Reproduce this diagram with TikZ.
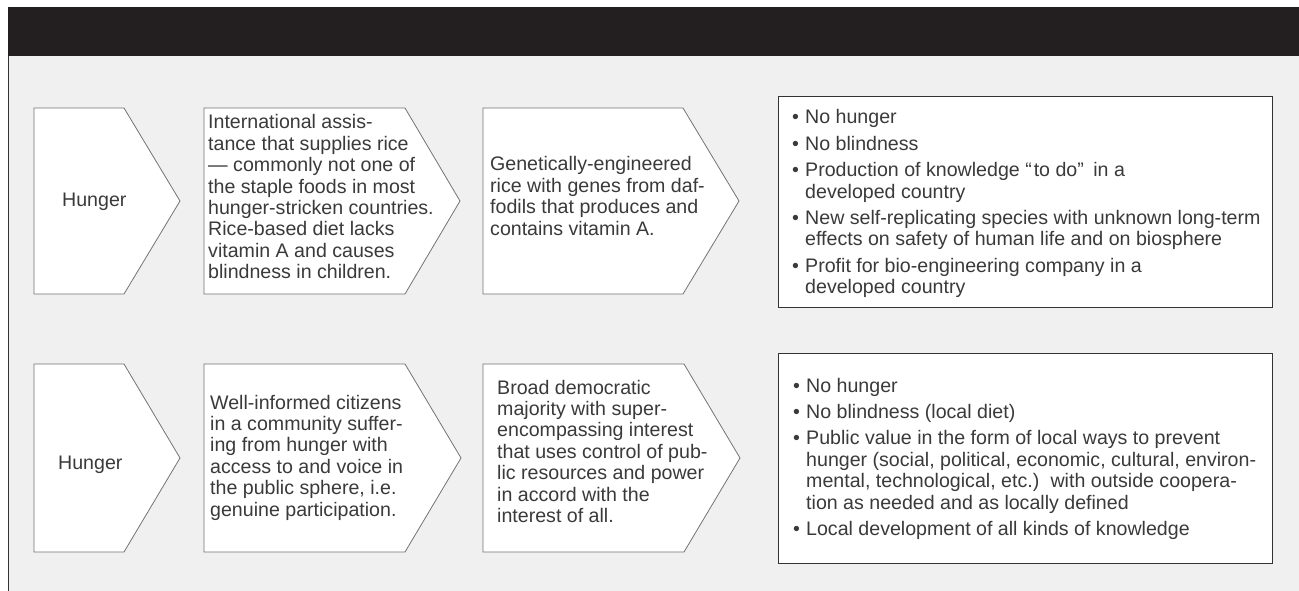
\documentclass[tikz,border=0pt]{standalone}
\usepackage{fontspec}
\setmainfont{Liberation Sans}
\definecolor{barblack}{HTML}{231F20}
\definecolor{panel}{HTML}{F0F0F0}
\definecolor{ink}{HTML}{3A3A3A}
% chevron box: left x, notch x, tip x, top y, bottom y
\newcommand\chevronbox[5]{%
  \draw[pentbox] (#1,#4) -- (#2,#4) -- (#3,{(#4+#5)/2}) -- (#2,#5) -- (#1,#5) -- cycle;}
\begin{document}
\begin{tikzpicture}[x=1pt,y=-1pt,
  pentbox/.style={draw=black!55, line width=0.8pt, fill=white, line join=miter},
  outbox/.style={draw=black!80, line width=1pt, fill=white},
  txt/.style={inner sep=0pt, anchor=base west, text=ink,
    font=\fontsize{19.6pt}{21.4pt}\selectfont},
]
\useasboundingbox (0,0) rectangle (1299,591);
\fill[white] (0,0) rectangle (1299,591);
% panel and heading bar
\fill[panel] (8,56) rectangle (1299,591);
\fill[barblack] (8,7) rectangle (1299,56);
\draw[black!80, line width=1pt] (8.5,56) -- (8.5,591);

% first row
\chevronbox{34}{124}{180}{108}{294}
\chevronbox{204}{405}{460}{108}{294}
\chevronbox{483}{683}{739}{108}{294}
\draw[outbox] (778,97) rectangle (1272,307);

\node[txt] (hungerA) at (62,207) {Hunger};
\node[txt] (meansA) at (208,129) {\begin{tabular}[t]{@{}l@{}}
International assis-\\
tance that supplies rice\\
— commonly not one of\\
the staple foods in most\\
hunger-stricken countries.\\
Rice-based diet lacks\\
vitamin A and causes\\
blindness in children.\end{tabular}};
\node[txt] (techA) at (490,171) {\begin{tabular}[t]{@{}l@{}}
Genetically-engineered\\
rice with genes from daf-\\
fodils that produces and\\
contains vitamin A.\end{tabular}};
\node[txt] (resultA) at (792,124) {\begin{tabular}[t]{@{}p{13pt}@{}l@{}}
• & No hunger\\[5pt]
• & No blindness\\[5pt]
• & Production of knowledge “\kern2pt to do”\kern4pt{} in a\\
  & developed country\\[5pt]
• & New self-replicating species with unknown long-term\\
  & effects on safety of human life and on biosphere\\[5pt]
• & Profit for bio-engineering company in a\\
  & developed country\end{tabular}};

% second row
\chevronbox{34}{124}{180}{364}{552}
\chevronbox{204}{405}{461}{364}{552}
\chevronbox{483}{684}{740}{364}{552}
\draw[outbox] (778,353) rectangle (1272,563);

\node[txt] (hungerB) at (58,469) {Hunger};
\node[txt] (meansB) at (210,409) {\begin{tabular}[t]{@{}l@{}}
Well-informed citizens\\
in a community suffer-\\
ing from hunger with\\
access to and voice in\\
the public sphere, i.e.\\
genuine participation.\end{tabular}};
\node[txt] (techB) at (497,394) {\begin{tabular}[t]{@{}l@{}}
Broad democratic\\
majority with super-\\
encompassing interest\\
that uses control of pub-\\
lic resources and power\\
in accord with the\\
interest of all.\end{tabular}};
\node[txt] (resultB) at (793,392) {\begin{tabular}[t]{@{}p{13pt}@{}l@{}}
• & No hunger\\[5pt]
• & No blindness (local diet)\\[5pt]
• & Public value in the form of local ways to prevent\\
  & hunger (social, political, economic, cultural, environ-\\
  & mental, technological, etc.)\kern4pt{} with outside coopera-\\
  & tion as needed and as locally defined\\[5pt]
• & Local development of all kinds of knowledge\end{tabular}};
\end{tikzpicture}
\end{document}
